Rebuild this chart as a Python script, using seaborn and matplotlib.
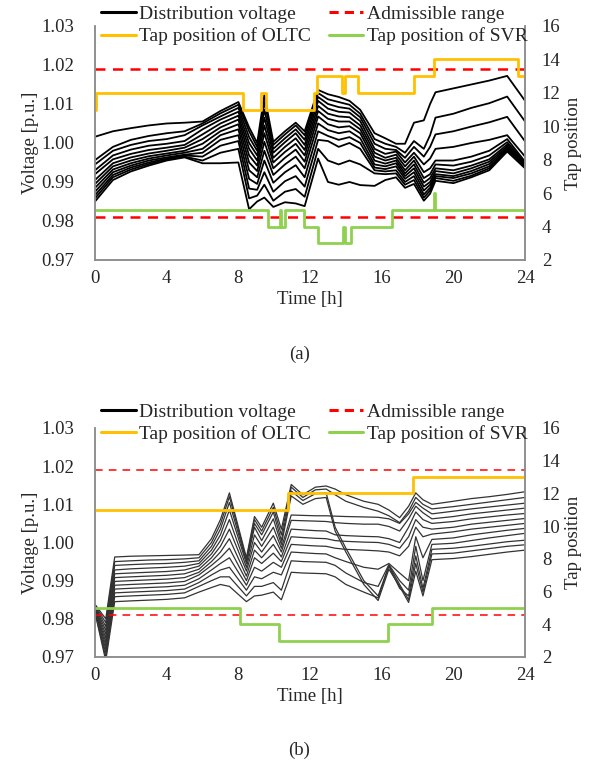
import numpy as np
import pandas as pd
import matplotlib
matplotlib.use("Agg")
import matplotlib.pyplot as plt
from matplotlib.lines import Line2D
import seaborn as sns

# ---------------- data: case (a) ----------------
hours_a = [0, 1, 2, 3, 4, 5, 6, 7, 8,
           8.6, 9.05, 9.45, 9.95, 10.6, 11.2, 11.7, 12.45,
           13.0, 13.6, 14.2, 14.8, 15.6, 16.2, 16.8, 17.3, 17.8, 18.35, 18.7,
           19.0, 20, 21, 22, 23, 24]

volt_a = [
    [1.0016, 1.0030, 1.0038, 1.0045, 1.0050, 1.0052, 1.0055, 1.0082, 1.0105,
     1.0040, 1.0000, 1.0123, 1.0003, 1.0030, 1.0052, 1.0030, 1.0136,
     1.0125, 1.0118, 1.0108, 1.0085, 1.0025, 1.0012, 0.9998, 0.9998, 1.0052, 1.0058, 1.0100,
     1.0130, 1.0140, 1.0150, 1.0160, 1.0172, 1.0108],
    [0.9956, 0.9990, 1.0008, 1.0018, 1.0025, 1.0030, 1.0050, 1.0076, 1.0098,
     1.0030, 0.9990, 1.0105, 0.9995, 1.0022, 1.0045, 1.0020, 1.0128,
     1.0112, 1.0105, 1.0098, 1.0075, 1.0010, 0.9998, 0.9990, 0.9975, 1.0005, 0.9985, 1.0020,
     1.0065, 1.0075, 1.0090, 1.0102, 1.0119, 1.0055],
    [0.9945, 0.9980, 0.9995, 1.0005, 1.0010, 1.0020, 1.0045, 1.0068, 1.0090,
     1.0015, 0.9980, 1.0085, 0.9985, 1.0012, 1.0035, 1.0008, 1.0118,
     1.0100, 1.0092, 1.0088, 1.0066, 0.9998, 0.9985, 0.9982, 0.9962, 0.9990, 0.9965, 0.9990,
     1.0022, 1.0030, 1.0042, 1.0053, 1.0067, 1.0004],
    [0.9930, 0.9968, 0.9983, 0.9993, 0.9998, 1.0005, 1.0035, 1.0060, 1.0080,
     1.0000, 0.9968, 1.0065, 0.9975, 1.0002, 1.0025, 0.9995, 1.0108,
     1.0088, 1.0080, 1.0078, 1.0056, 0.9985, 0.9972, 0.9978, 0.9950, 0.9975, 0.9945, 0.9960,
     0.9985, 0.9990, 1.0000, 1.0008, 1.0020, 0.9965],
    [0.9920, 0.9958, 0.9972, 0.9982, 0.9988, 0.9995, 1.0022, 1.0050, 1.0070,
     0.9985, 0.9955, 1.0045, 0.9962, 0.9990, 1.0012, 0.9982, 1.0095,
     1.0075, 1.0068, 1.0066, 1.0045, 0.9975, 0.9962, 0.9970, 0.9940, 0.9965, 0.9925, 0.9935,
     0.9955, 0.9955, 0.9965, 0.9980, 1.0010, 0.9952],
    [0.9905, 0.9948, 0.9963, 0.9973, 0.9980, 0.9988, 1.0010, 1.0040, 1.0060,
     0.9968, 0.9942, 1.0025, 0.9950, 0.9977, 0.9998, 0.9968, 1.0082,
     1.0062, 1.0055, 1.0055, 1.0035, 0.9965, 0.9955, 0.9962, 0.9930, 0.9955, 0.9910, 0.9920,
     0.9945, 0.9942, 0.9952, 0.9968, 1.0002, 0.9949],
    [0.9895, 0.9940, 0.9955, 0.9966, 0.9973, 0.9980, 0.9998, 1.0030, 1.0048,
     0.9950, 0.9928, 1.0003, 0.9935, 0.9962, 0.9983, 0.9952, 1.0068,
     1.0048, 1.0040, 1.0043, 1.0025, 0.9955, 0.9947, 0.9955, 0.9922, 0.9945, 0.9898, 0.9910,
     0.9935, 0.9930, 0.9942, 0.9958, 0.9996, 0.9946],
    [0.9885, 0.9932, 0.9948, 0.9960, 0.9968, 0.9975, 0.9985, 1.0020, 1.0035,
     0.9930, 0.9912, 0.9980, 0.9918, 0.9945, 0.9965, 0.9935, 1.0050,
     1.0033, 1.0025, 1.0030, 1.0012, 0.9945, 0.9940, 0.9948, 0.9915, 0.9935, 0.9888, 0.9900,
     0.9928, 0.9922, 0.9935, 0.9952, 0.9991, 0.9944],
    [0.9875, 0.9925, 0.9942, 0.9955, 0.9963, 0.9970, 0.9975, 1.0008, 1.0020,
     0.9908, 0.9895, 0.9955, 0.9898, 0.9925, 0.9943, 0.9912, 1.0030,
     1.0018, 1.0008, 1.0015, 1.0000, 0.9937, 0.9933, 0.9940, 0.9908, 0.9925, 0.9878, 0.9893,
     0.9920, 0.9915, 0.9928, 0.9946, 0.9987, 0.9942],
    [0.9866, 0.9918, 0.9937, 0.9950, 0.9960, 0.9968, 0.9965, 0.9993, 1.0005,
     0.9883, 0.9880, 0.9925, 0.9875, 0.9902, 0.9915, 0.9888, 1.0008,
     1.0005, 0.9990, 1.0000, 0.9985, 0.9930, 0.9927, 0.9930, 0.9900, 0.9915, 0.9868, 0.9885,
     0.9915, 0.9910, 0.9922, 0.9940, 0.9984, 0.9940],
    [0.9858, 0.9912, 0.9932, 0.9946, 0.9957, 0.9965, 0.9955, 0.9975, 0.9985,
     0.9858, 0.9865, 0.9893, 0.9852, 0.9875, 0.9882, 0.9862, 0.9985,
     0.9955, 0.9945, 0.9955, 0.9945, 0.9922, 0.9920, 0.9922, 0.9893, 0.9905, 0.9860, 0.9878,
     0.9910, 0.9903, 0.9916, 0.9935, 0.9981, 0.9938],
    [0.9850, 0.9905, 0.9927, 0.9942, 0.9955, 0.9963, 0.9948, 0.9948, 0.9950,
     0.9830, 0.9850, 0.9860, 0.9836, 0.9848, 0.9845, 0.9838, 0.9960,
     0.9900, 0.9893, 0.9900, 0.9892, 0.9890, 0.9905, 0.9912, 0.9885, 0.9895, 0.9852, 0.9870,
     0.9903, 0.9897, 0.9912, 0.9930, 0.9978, 0.9935],
]

oltc_a_t = [0, 0.05, 8.25, 9.25, 9.55, 12.2, 12.4, 13.8, 13.95, 14.7, 17.8, 18.9, 23.6, 24]
oltc_a_tap = [11, 12, 11, 12, 11, 12, 13, 12, 13, 12, 13, 14, 13, 13]
svr_a_t = [0, 9.65, 10.3, 10.4, 10.6, 11.65, 12.45, 13.85, 13.95, 14.3, 16.6, 18.9, 18.95, 24]
svr_a_tap = [5, 4, 5, 4, 5, 4, 3, 4, 3, 4, 5, 6, 5, 5]

# ---------------- data: case (b) ----------------
hours_b = [0, 0.6, 1.1, 2, 3, 4, 5, 5.8,
           6.5, 7.0, 7.5, 8.45, 8.9, 9.3, 9.95, 10.4,
           10.95, 11.6, 12.3, 12.9,
           13.4, 14.0, 15.0, 15.8, 16.4, 17.0, 17.5, 17.9, 18.3, 18.8, 20, 21, 22, 23, 24]

volt_b = [
    [0.9838, 0.9800, 0.9962, 0.9964, 0.9965, 0.9966, 0.9967, 0.9968,
     1.0010, 1.0060, 1.0130, 0.9960, 1.0068, 1.0040, 1.0103, 1.0035,
     1.0152, 1.0125, 1.0145, 1.0148,
     1.0140, 1.0125, 1.0108, 1.0100, 1.0085, 1.0065, 1.0095, 1.0130, 1.0112, 1.0100,
     1.0108, 1.0115, 1.0120, 1.0126, 1.0133],
    [0.9836, 0.9790, 0.9950, 0.9952, 0.9954, 0.9955, 0.9957, 0.9960,
     1.0000, 1.0048, 1.0120, 0.9955, 1.0060, 1.0030, 1.0092, 1.0020,
     1.0145, 1.0118, 1.0138, 1.0140,
     1.0125, 1.0108, 1.0092, 1.0082, 1.0070, 1.0052, 1.0082, 1.0118, 1.0100, 1.0088,
     1.0094, 1.0100, 1.0106, 1.0112, 1.0118],
    [0.9834, 0.9780, 0.9940, 0.9942, 0.9944, 0.9945, 0.9948, 0.9952,
     0.9990, 1.0035, 1.0105, 0.9950, 1.0050, 1.0020, 1.0080, 1.0005,
     1.0135, 1.0110, 1.0128, 1.0130,
     1.0040, 0.9985, 0.9900, 0.9860, 0.9940, 0.9890, 0.9850, 0.9945, 0.9870, 0.9970,
     0.9972, 0.9978, 0.9984, 0.9990, 0.9994],
    [0.9832, 0.9770, 0.9928, 0.9931, 0.9933, 0.9935, 0.9938, 0.9945,
     0.9980, 1.0020, 1.0085, 0.9945, 1.0040, 1.0005, 1.0062, 0.9995,
     1.0122, 1.0100, 1.0115, 1.0118,
     1.0030, 0.9975, 0.9890, 0.9848, 0.9930, 0.9885, 0.9843, 0.9925, 0.9860, 0.9955,
     0.9958, 0.9963, 0.9969, 0.9975, 0.9980],
    [0.9830, 0.9760, 0.9918, 0.9920, 0.9922, 0.9924, 0.9928, 0.9938,
     0.9970, 1.0005, 1.0060, 0.9935, 1.0020, 0.9990, 1.0040, 0.9985,
     1.0072, 1.0071, 1.0070, 1.0070,
     1.0069, 1.0068, 1.0067, 1.0066, 1.0062, 1.0050, 1.0075, 1.0105, 1.0090, 1.0075,
     1.0082, 1.0088, 1.0093, 1.0098, 1.0103],
    [0.9828, 0.9750, 0.9908, 0.9910, 0.9912, 0.9914, 0.9918, 0.9930,
     0.9960, 0.9990, 1.0035, 0.9925, 1.0000, 0.9975, 1.0018, 0.9975,
     1.0058, 1.0057, 1.0056, 1.0055,
     1.0052, 1.0050, 1.0048, 1.0048, 1.0042, 1.0030, 1.0062, 1.0095, 1.0078, 1.0062,
     1.0068, 1.0075, 1.0080, 1.0085, 1.0090],
    [0.9826, 0.9740, 0.9898, 0.9900, 0.9902, 0.9904, 0.9908, 0.9922,
     0.9950, 0.9975, 1.0010, 0.9912, 0.9980, 0.9960, 0.9995, 0.9962,
     1.0035, 1.0033, 1.0031, 1.0030,
     1.0020, 1.0018, 1.0016, 1.0015, 1.0010, 1.0000, 1.0040, 1.0080, 1.0060, 1.0050,
     1.0055, 1.0062, 1.0067, 1.0072, 1.0076],
    [0.9824, 0.9730, 0.9888, 0.9890, 0.9892, 0.9894, 0.9898, 0.9915,
     0.9940, 0.9960, 0.9985, 0.9900, 0.9960, 0.9945, 0.9972, 0.9950,
     1.0015, 1.0013, 1.0011, 1.0010,
     1.0005, 1.0003, 1.0001, 1.0000, 0.9995, 0.9985, 1.0015, 1.0060, 1.0040, 1.0035,
     1.0040, 1.0048, 1.0053, 1.0058, 1.0063],
    [0.9822, 0.9720, 0.9878, 0.9880, 0.9882, 0.9884, 0.9888, 0.9905,
     0.9928, 0.9945, 0.9960, 0.9888, 0.9935, 0.9925, 0.9948, 0.9935,
     0.9995, 0.9993, 0.9991, 0.9990,
     0.9985, 0.9982, 0.9980, 0.9978, 0.9975, 0.9965, 0.9990, 1.0040, 1.0015, 1.0022,
     1.0028, 1.0035, 1.0040, 1.0045, 1.0050],
    [0.9820, 0.9710, 0.9868, 0.9870, 0.9872, 0.9874, 0.9878, 0.9895,
     0.9915, 0.9928, 0.9935, 0.9875, 0.9910, 0.9905, 0.9922, 0.9915,
     0.9975, 0.9973, 0.9971, 0.9970,
     0.9960, 0.9950, 0.9935, 0.9930, 0.9945, 0.9920, 0.9900, 1.0015, 0.9960, 1.0008,
     1.0012, 1.0020, 1.0026, 1.0032, 1.0037],
    [0.9818, 0.9700, 0.9858, 0.9860, 0.9862, 0.9864, 0.9868, 0.9885,
     0.9900, 0.9910, 0.9910, 0.9860, 0.9885, 0.9885, 0.9895, 0.9875,
     0.9952, 0.9950, 0.9949, 0.9948,
     0.9940, 0.9920, 0.9895, 0.9885, 0.9942, 0.9900, 0.9875, 0.9990, 0.9900, 0.9995,
     0.9998, 1.0005, 1.0012, 1.0018, 1.0024],
    [0.9816, 0.9690, 0.9845, 0.9847, 0.9849, 0.9851, 0.9855, 0.9870,
     0.9882, 0.9890, 0.9885, 0.9845, 0.9860, 0.9862, 0.9870, 0.9850,
     0.9922, 0.9920, 0.9919, 0.9918,
     0.9910, 0.9890, 0.9870, 0.9855, 0.9938, 0.9880, 0.9860, 0.9965, 0.9880, 0.9982,
     0.9985, 0.9990, 0.9996, 1.0002, 1.0006],
]

oltc_b_t = [0, 10.75, 17.75, 24]
oltc_b_tap = [11, 12, 13, 13]
svr_b_t = [0, 8.1, 10.25, 16.35, 18.8, 24]
svr_b_tap = [5, 4, 3, 4, 5, 5]

limits = [0.981, 1.019]

hour_ticks = [0, 4, 8, 12, 16, 20, 24]
volt_ticks = [0.97, 0.98, 0.99, 1.00, 1.01, 1.02, 1.03]
tap_ticks = [2, 4, 6, 8, 10, 12, 14, 16]

labels = ["Distribution voltage", "Tap position of OLTC",
          "Admissible range", "Tap position of SVR"]

C_OLTC = "#FFC000"
C_SVR = "#8FD14F"
C_LIM = "#FF0000"
C_SPINE = "#8c8c8c"
FS = 13.5

sns.set_theme(style="white")
plt.rcParams["font.family"] = ["Liberation Serif", "DejaVu Serif"]


def long_frame(hours, rows):
    recs = []
    for k, row in enumerate(rows):
        for t, v in zip(hours, row):
            recs.append((k, t, v))
    return pd.DataFrame(recs, columns=["line", "t", "v"])


def panel(ax, hours, volts, ot, otap, st, stap, vcol, vlw, dash, dlw, leg_y, tag, tag_y):
    df = long_frame(hours, volts)
    sns.lineplot(data=df, x="t", y="v", units="line", estimator=None,
                 color=vcol, lw=vlw, ax=ax, legend=False)
    for lim in limits:
        ax.axhline(lim, color=C_LIM, lw=dlw, dashes=dash)
    ax.set_xlim(0, 24)
    ax.set_ylim(0.97, 1.03)
    ax.set_xticks(hour_ticks)
    ax.set_yticks(volt_ticks)
    ax.set_yticklabels([f"{v:.2f}" for v in volt_ticks])
    ax.set_xlabel("Time [h]", fontsize=FS, labelpad=3)
    ax.set_ylabel("Voltage [p.u.]", fontsize=FS, labelpad=2)
    ax.tick_params(axis="x", length=0, pad=7, labelsize=FS)
    ax.tick_params(axis="y", length=0, pad=15, labelsize=FS)

    ax2 = ax.twinx()
    sns.lineplot(x=ot, y=otap, drawstyle="steps-post", color=C_OLTC, lw=2.0,
                 ax=ax2, estimator=None)
    sns.lineplot(x=st, y=stap, drawstyle="steps-post", color=C_SVR, lw=2.0,
                 ax=ax2, estimator=None)
    ax2.set_ylim(2, 16)
    ax2.set_yticks(tap_ticks)
    ax2.set_ylabel("Tap position", fontsize=FS, labelpad=3)
    ax2.tick_params(axis="y", length=0, pad=12, labelsize=FS)

    for a in (ax, ax2):
        a.spines["top"].set_visible(False)
        for s in ("left", "right", "bottom"):
            a.spines[s].set_color(C_SPINE)
            a.spines[s].set_linewidth(1.1)
    ax.grid(False)
    ax2.grid(False)

    handles = [Line2D([], [], color="black", lw=2.2),
               Line2D([], [], color=C_OLTC, lw=2.2),
               Line2D([], [], color=C_LIM, lw=2.2, dashes=(3, 2)),
               Line2D([], [], color=C_SVR, lw=2.2)]
    fig.legend(handles, labels, ncol=2, loc="center", bbox_to_anchor=(0.525, leg_y),
               frameon=False, fontsize=FS + 0.5, handlelength=1.75, handletextpad=0.2,
               columnspacing=0.9, labelspacing=0.22, borderpad=0)
    fig.text(0.5, tag_y, tag, ha="center", va="center", fontsize=FS)


fig = plt.figure(figsize=(5.99, 7.80), dpi=100)
ax_a = fig.add_axes([0.1586, 0.6667, 0.718, 0.300])
ax_b = fig.add_axes([0.1586, 0.1577, 0.718, 0.2936])

panel(ax_a, hours_a, volt_a, oltc_a_t, oltc_a_tap, svr_a_t, svr_a_tap,
      "black", 1.3, (4, 3), 1.8, 1 - 25.5 / 780, "(a)", 1 - 354 / 780)
panel(ax_b, hours_b, volt_b, oltc_b_t, oltc_b_tap, svr_b_t, svr_b_tap,
      "#333333", 0.9, (5, 4), 1.1, 1 - 423 / 780, "(b)", 1 - 750 / 780)

fig.savefig("out.png", dpi=100)
